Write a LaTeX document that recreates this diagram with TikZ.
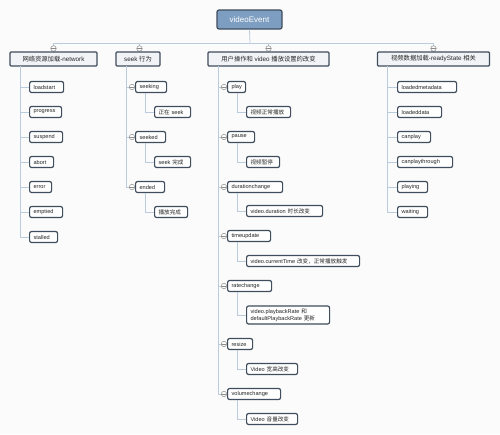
\documentclass[tikz,border=0pt]{standalone}
\usepackage{fontspec}
\setmainfont{Liberation Sans}
\newfontfamily\cjk{Noto Sans CJK SC}
\definecolor{bg}{HTML}{FBFBFC}
\definecolor{ln}{HTML}{BACBDD}
\definecolor{bd}{HTML}{3F4D5C}
\definecolor{rootfill}{HTML}{7D9EC1}
\definecolor{catfill}{HTML}{F1F3F6}
\newcommand{\zh}[1]{{\cjk #1}}
\tikzset{
  rootbox/.style={draw=bd, line width=1.2pt, fill=rootfill, rounded corners=2pt, text=white,
    minimum width=65pt, minimum height=19pt, inner sep=0pt, font=\fontsize{8}{9}\selectfont},
  catbox/.style={draw=bd, line width=1.2pt, fill=catfill, rounded corners=1pt, minimum height=14pt,
    inner sep=0pt, font=\fontsize{6.3}{7}\selectfont, text=black!85},
  leafbox/.style={draw=bd, line width=1.2pt, fill=white, rounded corners=2pt, anchor=west,
    minimum height=11pt, inner xsep=4pt, inner ysep=0pt, align=left,
    font=\fontsize{5.6}{6.5}\selectfont, text=black!85},
  conn/.style={draw=ln, line width=0.8pt},
  marker/.style={circle, draw=black!45, fill=white, line width=0.5pt, minimum size=5.5pt, inner sep=0pt,
    path picture={\draw[black!45, line width=0.5pt] (path picture bounding box.west) -- (path picture bounding box.east);}},
}
\newcommand{\leaf}[5]{\node[leafbox, text width=#3pt-8pt] (#1) at (#2,#4) {#5};}
\begin{document}
\begin{tikzpicture}[x=1pt, y=-1pt]
\useasboundingbox[fill=bg] (0,0) rectangle (500,434);

% root
\node[rootbox] (root) at (249.5,19.5) {videoEvent};

% bus
\coordinate (bus) at (250,43);
\coordinate (busL) at (53.5,43);
\coordinate (busR) at (433.5,43);
\draw[conn] (root.south) -- (bus);
\draw[conn] (busL) -- (busR);

% categories positions
\coordinate (m1) at (53.5,48.5);
\coordinate (m2) at (139.5,48.5);
\coordinate (m3) at (268.5,48.5);
\coordinate (m4) at (433.5,48.5);
\draw[conn] (busL) -- (53.5,52);
\draw[conn] (139.5,43) -- (139.5,52);
\draw[conn] (268.5,43) -- (268.5,52);
\draw[conn] (busR) -- (433.5,52);
\node[marker] (mk1) at (m1) {};
\node[marker] (mk2) at (m2) {};
\node[marker] (mk3) at (m3) {};
\node[marker] (mk4) at (m4) {};

\node[catbox, minimum width=87pt] (cat1) at (53.5,59) {\zh{网络资源加载}-network};
\node[catbox, minimum width=44pt] (cat2) at (138,59) {seek \zh{行为}};
\node[catbox, minimum width=121pt] (cat3) at (268.5,59) {\zh{用户操作和} video \zh{播放设置的改变}};
\node[catbox, minimum width=112pt] (cat4) at (433.5,59) {\zh{视频数据加载}-readyState \zh{相关}};

% spine coordinates
\coordinate (s1) at (20,66);
\coordinate (s2) at (126,66);
\coordinate (s3) at (218,66);
\coordinate (s4) at (387,66);

% category 1
\leaf{loadstart}{29}{34}{87}{loadstart}
\leaf{progress}{29}{32}{112}{progress}
\leaf{suspend}{29}{33}{137}{suspend}
\leaf{abort}{29}{24}{162}{abort}
\leaf{error}{29}{22}{187}{error}
\leaf{emptied}{29}{33}{212}{emptied}
\leaf{stalled}{29}{28}{237}{stalled}
\foreach \n in {loadstart,progress,suspend,abort,error,emptied,stalled}
  \draw[conn] (s1) |- (\n.west);

% category 2
\foreach \n/\y in {seeking/87,seeked/137,ended/187}
  {\draw[conn] (s2) |- (129,\y); \node[marker] at (132,\y) {};}
\leaf{seeking}{135}{31}{87}{seeking}
\leaf{zhengzai}{154}{36}{112}{\zh{正在} seek}
\leaf{seeked}{135}{30}{137}{seeked}
\leaf{seekdone}{154}{36}{162}{seek \zh{完成}}
\leaf{ended}{135}{29}{187}{ended}
\leaf{playdone}{154}{33}{212}{\zh{播放完成}}
\foreach \p/\c in {seeking/zhengzai,seeked/seekdone,ended/playdone}
  \draw[conn] ([xshift=10pt]\p.south west) |- (\c.west);

% category 3
\foreach \y in {87,137,187,236,286,344,394}
  {\draw[conn] (s3) |- (221,\y); \node[marker] at (224,\y) {};}
\leaf{play}{227}{18}{87}{play}
\leaf{playing3}{246}{44}{112}{\zh{视频正常播放}}
\leaf{pause}{227}{27}{137}{pause}
\leaf{pausing}{246}{33}{162}{\zh{视频暂停}}
\leaf{durch}{227}{55}{187}{durationchange}
\leaf{durtxt}{246}{76}{211}{video.duration \zh{时长改变}}
\leaf{timeup}{227}{43}{236}{timeupdate}
\leaf{timetxt}{246}{113}{261}{video.currentTime \zh{改变，正常播放触发}}
\leaf{ratech}{227}{44}{286}{ratechange}
\node[leafbox, text width=83pt-8pt, minimum height=18pt, font=\fontsize{5.6}{7.5}\selectfont] (ratetxt) at (246,315) {video.playbackRate \zh{和}\\ defaultPlaybackRate \zh{更新}};
\leaf{resize}{227}{25}{344}{resize}
\leaf{resizetxt}{246}{51}{369}{Video \zh{宽高改变}}
\leaf{volch}{227}{53}{394}{volumechange}
\leaf{voltxt}{246}{51}{419}{Video \zh{音量改变}}
\draw[conn] (s3) -- (218,394);
\foreach \p/\c in {play/playing3,pause/pausing,durch/durtxt,timeup/timetxt,ratech/ratetxt,resize/resizetxt,volch/voltxt}
  \draw[conn] ([xshift=10pt]\p.south west) |- (\c.west);

% category 4
\leaf{lmeta}{397}{59}{87}{loadedmetadata}
\leaf{ldata}{397}{44}{112}{loadeddata}
\leaf{cplay}{397}{33}{137}{canplay}
\leaf{cthrough}{397}{55}{162}{canplaythrough}
\leaf{playing}{397}{30}{187}{playing}
\leaf{waiting}{397}{30}{212}{waiting}
\foreach \n in {lmeta,ldata,cplay,cthrough,playing,waiting}
  \draw[conn] (s4) |- (\n.west);
\end{tikzpicture}
\end{document}
